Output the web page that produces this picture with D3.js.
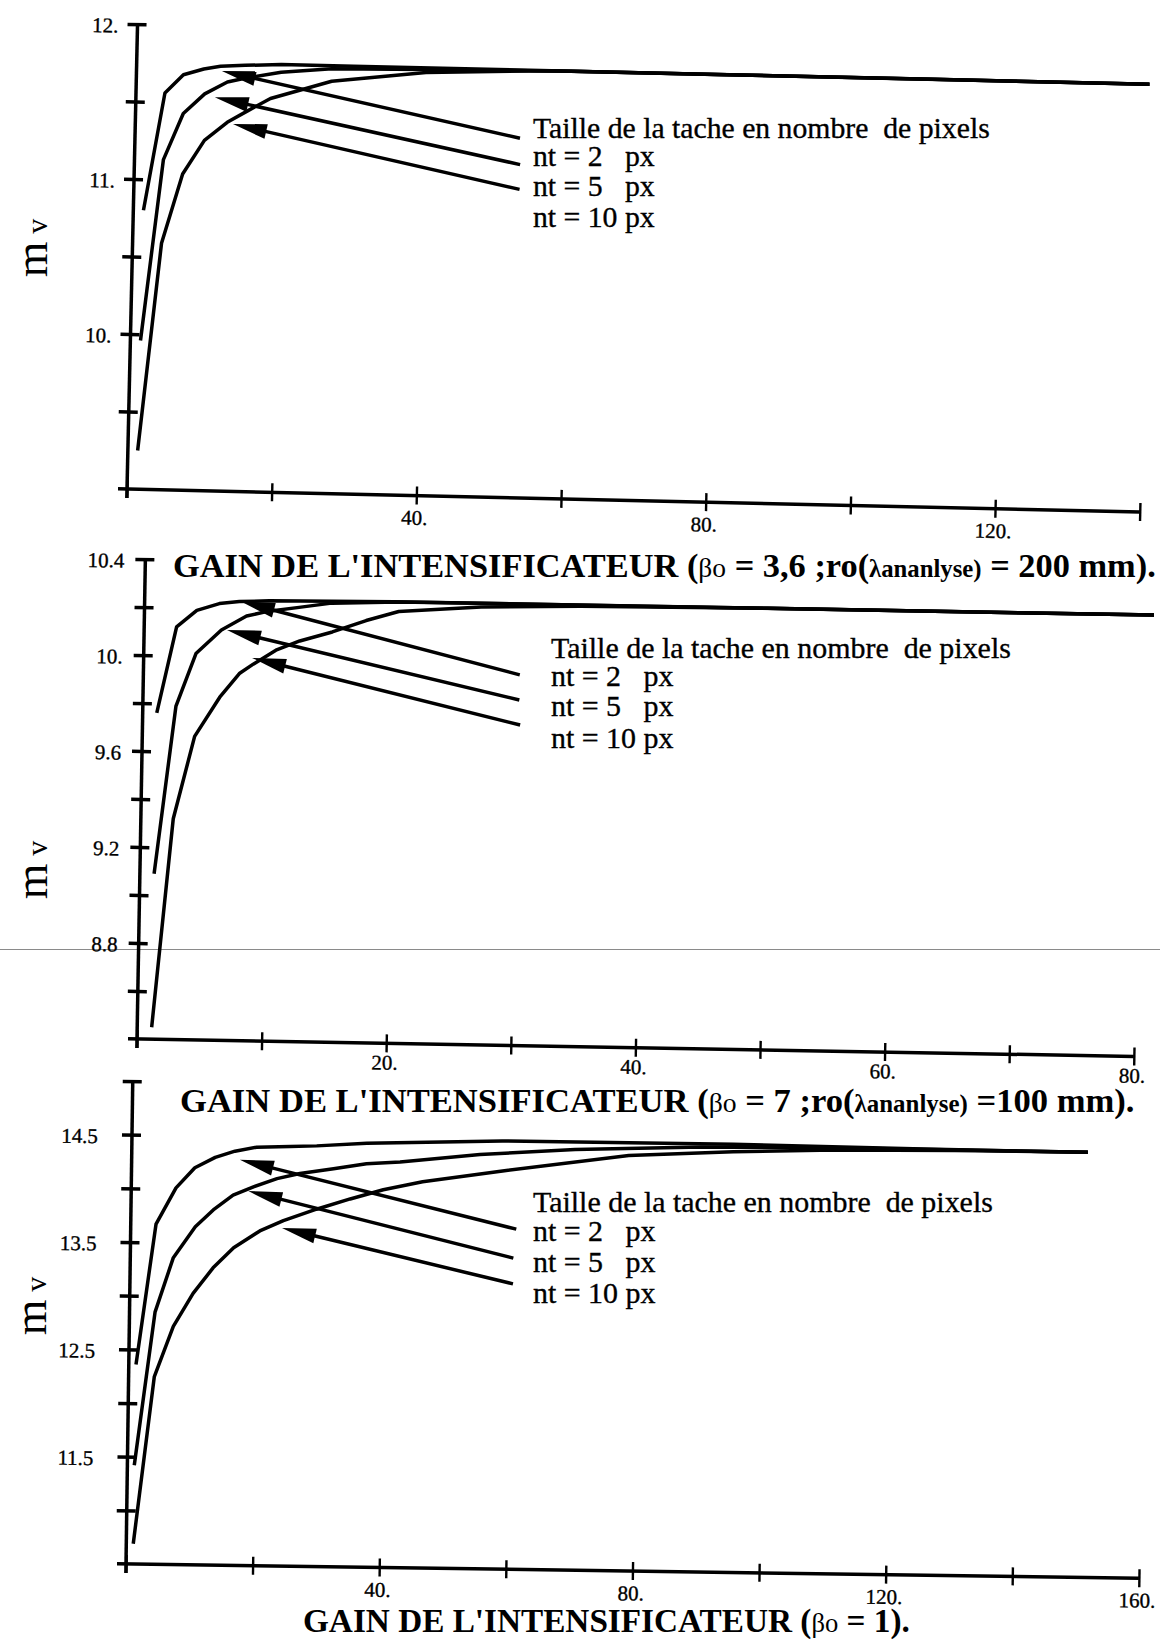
<!DOCTYPE html>
<html><head><meta charset="utf-8">
<script src="https://cdn.jsdelivr.net/npm/d3@7"></script>
<style>
body{margin:0;background:#fff;}
svg{display:block;}
text{font-family:"Liberation Serif","Times New Roman",serif;fill:#000;}
</style></head><body>
<svg id="chart" width="1160" height="1640"></svg>
<script>
// ================= DATA =================
const legendTitle = "Taille de la tache en nombre  de pixels";
const legendItems = ["nt = 2   px", "nt = 5   px", "nt = 10 px"];

// ---- Panel 1 : beta0 = 3,6 ; r0 = 200 mm ----
const p1_nt2  = [[1.4,10.80],[4.0,11.56],[6.5,11.68],[9.3,11.72],[11.6,11.74],[15,11.75],[20,11.76],[30,11.76],[50,11.76],[80,11.76],[110,11.76],[140,11.76]];
const p1_nt5  = [[1.4,9.96],[4.0,11.13],[6.6,11.43],[9.5,11.56],[12.6,11.64],[15.3,11.67],[20,11.71],[27,11.74],[40,11.75],[60,11.76],[100,11.76],[140,11.76]];
const p1_nt10 = [[1.35,9.25],[4.0,10.59],[6.7,11.04],[9.6,11.26],[12.7,11.38],[15.6,11.46],[18.6,11.54],[27,11.66],[40,11.73],[57,11.76],[80,11.76],[110,11.76],[140,11.76]];
const p1XTicks = [0,20,40,60,80,100,120,140];
const p1XLabels = [[40,"40."],[80,"80."],[120,"120."]];
const p1YTicks = [9.5,10,10.5,11,11.5,12];
const p1YLabels = [[10,"10."],[11,"11."],[12,"12."]];
// arrows: [tipX, tipY, tailX, tailY] in data units
const p1Arrows = [[11.8,11.71,53.2,11.32],[10.9,11.54,53.3,11.15],[13.5,11.37,53.3,10.99]];
const p1Title = [["GAIN DE L'INTENSIFICATEUR (",1,"bold"],["βo",0.8,"normal"],[" = 3,6 ;",1,"bold"],["ro(",1,"bold"],["λananlyse)",0.72,"bold"],[" = 200 mm).",1,"bold"]];

// ---- Panel 2 : beta0 = 7 ; r0 = 100 mm ----
const p2_nt2  = [[1.13,9.76],[2.6,10.12],[4.2,10.19],[6.0,10.22],[7.6,10.23],[10,10.235],[20,10.24],[40,10.24],[60,10.24],[81,10.24]];
const p2_nt5  = [[1.14,9.09],[2.66,9.79],[4.19,10.01],[6.2,10.11],[8.2,10.17],[9.8,10.19],[12.4,10.21],[15.0,10.23],[20.4,10.24],[30,10.24],[50,10.24],[81,10.24]];
const p2_nt10 = [[1.16,8.45],[2.6,9.32],[4.2,9.665],[6.16,9.83],[7.7,9.93],[8.8,9.97],[10.6,10.03],[12.5,10.07],[15.1,10.11],[17.8,10.16],[20.4,10.20],[27,10.225],[35,10.235],[50,10.24],[81,10.24]];
const p2XTicks = [0,10,20,30,40,50,60,70,80];
const p2XLabels = [[20,"20."],[40,"40."],[60,"60."],[80,"80."]];
const p2YTicks = [8.6,8.8,9.0,9.2,9.4,9.6,9.8,10.0,10.2,10.4];
const p2YLabels = [[8.8,"8.8"],[9.2,"9.2"],[9.6,"9.6"],[10.0,"10."],[10.4,"10.4"]];
const p2Arrows = [[7.73,10.23,30.2,9.945],[6.65,10.11,30.2,9.84],[8.7,9.996,30.3,9.736]];
const p2Title = [["GAIN DE L'INTENSIFICATEUR (",1,"bold"],["βo",0.8,"normal"],[" = 7 ;",1,"bold"],["ro(",1,"bold"],["λananlyse)",0.72,"bold"],[" =100 mm).",1,"bold"]];

// ---- Panel 3 : beta0 = 1 ----
const p3_nt2  = [[1.14,12.36],[3.99,13.67],[7.07,14.01],[10.0,14.20],[13.2,14.30],[16.3,14.36],[19.7,14.40],[25.0,14.41],[29.2,14.42],[37.1,14.45],[58.5,14.49],[95,14.49],[125,14.47],[151,14.46]];
const p3_nt5  = [[1.09,11.42],[4.03,12.85],[6.8,13.36],[10.2,13.65],[13.0,13.81],[16.1,13.95],[19.3,14.03],[23.0,14.11],[26.6,14.16],[31.9,14.21],[37.1,14.26],[42.4,14.28],[55,14.36],[70,14.42],[90,14.46],[110,14.47],[151,14.46]];
const p3_nt10 = [[1.1,10.69],[4.06,12.25],[6.95,12.72],[10.0,13.03],[13.1,13.27],[16.3,13.46],[20.4,13.62],[24.1,13.72],[29.3,13.83],[34.6,13.93],[39.8,14.02],[46,14.10],[58.6,14.21],[78.5,14.37],[95,14.42],[111,14.45],[130,14.46],[151,14.46]];
const p3XTicks = [0,20,40,60,80,100,120,140,160];
const p3XLabels = [[40,"40."],[80,"80."],[120,"120."],[160,"160."]];
const p3YTicks = [11.0,11.5,12.0,12.5,13.0,13.5,14.0,14.5,15.0];
const p3YLabels = [[11.5,"11.5"],[12.5,"12.5"],[13.5,"13.5"],[14.5,"14.5"]];
const p3Arrows = [[17.1,14.28,60.9,13.67],[18.5,13.99,60.5,13.40],[23.9,13.65,60.5,13.16]];
const p3Title = [["GAIN DE L'INTENSIFICATEUR (",1,"bold"],["βo",0.8,"normal"],[" = 1).",1,"bold"]];

// ================= DRAWING =================
const svg = d3.select("#chart");
svg.append("rect").attr("width",1160).attr("height",1640).attr("fill","#fff");

// faint scanner line across the page
svg.append("line").attr("x1",0).attr("x2",1160).attr("y1",949.5).attr("y2",949.5)
  .attr("stroke","#8a8a8a").attr("stroke-width",1);

const SW = 3.5;
const TICKFS = 21;

function drawPanel(cfg){
  const {ox, oy, xDom, xEnd, yDom, yTop, angle, series, xTicks, xLabels, yTicks, yLabels, yPad, xLabOff, arrows} = cfg;
  const x = d3.scaleLinear().domain(xDom).range([ox, xEnd]);
  const y = d3.scaleLinear().domain(yDom).range([oy, yTop]);
  const g = svg.append("g").attr("transform", `rotate(${angle},${ox},${oy})`);

  // y axis
  const yMap = new Map(yLabels);
  const ya = d3.axisLeft(y).tickValues(yTicks).tickSizeInner(10).tickSizeOuter(0)
     .tickPadding(yPad).tickFormat(d => yMap.get(d) || "");
  const gy = g.append("g").attr("transform", `translate(${ox},0)`).call(ya);
  gy.select(".domain").remove();
  gy.selectAll(".tick line").attr("x1", 9).attr("x2", -10).attr("stroke","#000").attr("stroke-width", SW);
  gy.selectAll(".tick text").attr("font-size", TICKFS).attr("font-family","Liberation Serif").attr("dy","0.4em")
     .attr("stroke","#000").attr("stroke-width",0.35);
  gy.selectAll(".tick text").filter(function(){ return this.textContent === ""; }).remove();
  g.append("line").attr("x1", ox).attr("x2", ox).attr("y1", y(yDom[0]) + 9).attr("y2", y(yDom[1]))
    .attr("stroke","#000").attr("stroke-width", SW);

  // x axis
  const xMap = new Map(xLabels);
  const xa = d3.axisBottom(x).tickValues(xTicks).tickSizeInner(9).tickSizeOuter(0)
     .tickPadding(6).tickFormat(d => xMap.get(d) || "");
  const gx = g.append("g").attr("transform", `translate(0,${oy})`).call(xa);
  gx.select(".domain").remove();
  gx.selectAll(".tick line").attr("y1", -9).attr("y2", 9).attr("stroke","#000").attr("stroke-width", 2.4);
  gx.selectAll(".tick text").attr("font-size", TICKFS).attr("font-family","Liberation Serif")
     .attr("y", xLabOff).attr("dy","0.35em").attr("dx", -2)
     .attr("stroke","#000").attr("stroke-width",0.35);
  gx.selectAll(".tick text").filter(function(){ return this.textContent === ""; }).remove();
  g.append("line").attr("x1", ox - 9).attr("x2", x(xDom[1])).attr("y1", oy).attr("y2", oy)
    .attr("stroke","#000").attr("stroke-width", SW);

  // curves
  const line = d3.line().x(d => x(d[0])).y(d => y(d[1])).curve(d3.curveLinear);
  g.selectAll("path.curve").data(series).join("path").attr("class","curve")
    .attr("d", line).attr("fill","none").attr("stroke","#000").attr("stroke-width", SW)
    .attr("stroke-linejoin","round").attr("stroke-linecap","butt");

  // arrows
  const L = 34, HW = 7.5;
  arrows.forEach(a => {
    const tx = x(a[0]), ty = y(a[1]), sx = x(a[2]), sy = y(a[3]);
    const len = Math.hypot(sx - tx, sy - ty);
    const ux = (sx - tx)/len, uy = (sy - ty)/len;
    const bx = tx + ux*L, by = ty + uy*L;
    const nx = -uy, ny = ux;
    g.append("line").attr("x1", bx - ux*2).attr("y1", by - uy*2).attr("x2", sx).attr("y2", sy)
      .attr("stroke","#000").attr("stroke-width", SW);
    g.append("path").attr("d", `M${tx},${ty}L${bx+nx*HW},${by+ny*HW}L${bx-nx*HW},${by-ny*HW}Z`)
      .attr("fill","#000");
  });
  return {x, y};
}

function legend(x0, baselines, width){
  const t = svg.append("text").attr("x", x0).attr("y", baselines[0]).attr("font-size", 24)
     .attr("xml:space","preserve").style("white-space","pre").text(legendTitle)
     .attr("stroke","#000").attr("stroke-width",0.35);
  const w = t.node().getComputedTextLength();
  const fs = 24 * width / w;
  t.attr("font-size", fs);
  legendItems.forEach((s, i) => {
    svg.append("text").attr("x", x0).attr("y", baselines[i+1]).attr("font-size", fs)
      .attr("xml:space","preserve").style("white-space","pre").text(s)
      .attr("stroke","#000").attr("stroke-width",0.35);
  });
}

function title(parts, x0, baseline, width){
  const t = svg.append("text").attr("x", x0).attr("y", baseline).attr("font-size", 30)
     .attr("xml:space","preserve").style("white-space","pre");
  parts.forEach(p => {
    t.append("tspan").text(p[0]).attr("font-size", (p[1]) + "em").attr("font-weight", p[2]);
  });
  const w = t.node().getComputedTextLength();
  t.attr("font-size", 30 * width / w);
}

function ylab(cx, cy){
  const t = svg.append("text").attr("transform", `translate(${cx},${cy}) rotate(-90)`)
     .attr("text-anchor","middle").attr("xml:space","preserve").style("white-space","pre");
  t.append("tspan").text("m").attr("font-size", 46);
  t.append("tspan").text(" v").attr("font-size", 30);
}

// Panel 1
drawPanel({ox:127, oy:489, xDom:[0,140], xEnd:1140, yDom:[9,12], yTop:24, angle:1.3,
  series:[p1_nt2,p1_nt5,p1_nt10], xTicks:p1XTicks, xLabels:p1XLabels,
  yTicks:p1YTicks, yLabels:p1YLabels, yPad:9, xLabOff:22, arrows:p1Arrows});
// Panel 2
drawPanel({ox:137, oy:1039, xDom:[0,80], xEnd:1134, yDom:[8.4,10.4], yTop:559, angle:1.0,
  series:[p2_nt2,p2_nt5,p2_nt10], xTicks:p2XTicks, xLabels:p2XLabels,
  yTicks:p2YTicks, yLabels:p2YLabels, yPad:11, xLabOff:19, arrows:p2Arrows});
// Panel 3
drawPanel({ox:126, oy:1564, xDom:[0,160], xEnd:1139, yDom:[10.5,15.0], yTop:1081, angle:0.8,
  series:[p3_nt2,p3_nt5,p3_nt10], xTicks:p3XTicks, xLabels:p3XLabels,
  yTicks:p3YTicks, yLabels:p3YLabels, yPad:24, xLabOff:22, arrows:p3Arrows});

legend(533, [138,166,196,227], 457);
legend(551, [658,686,716,748], 460);
legend(533, [1212,1241,1272,1303], 460);

title(p1Title, 173, 577, 983);
title(p2Title, 180, 1112, 955);
title(p3Title, 303, 1632, 607);

ylab(47, 248);
ylab(47, 870);
ylab(46, 1306);
</script>
</body></html>
